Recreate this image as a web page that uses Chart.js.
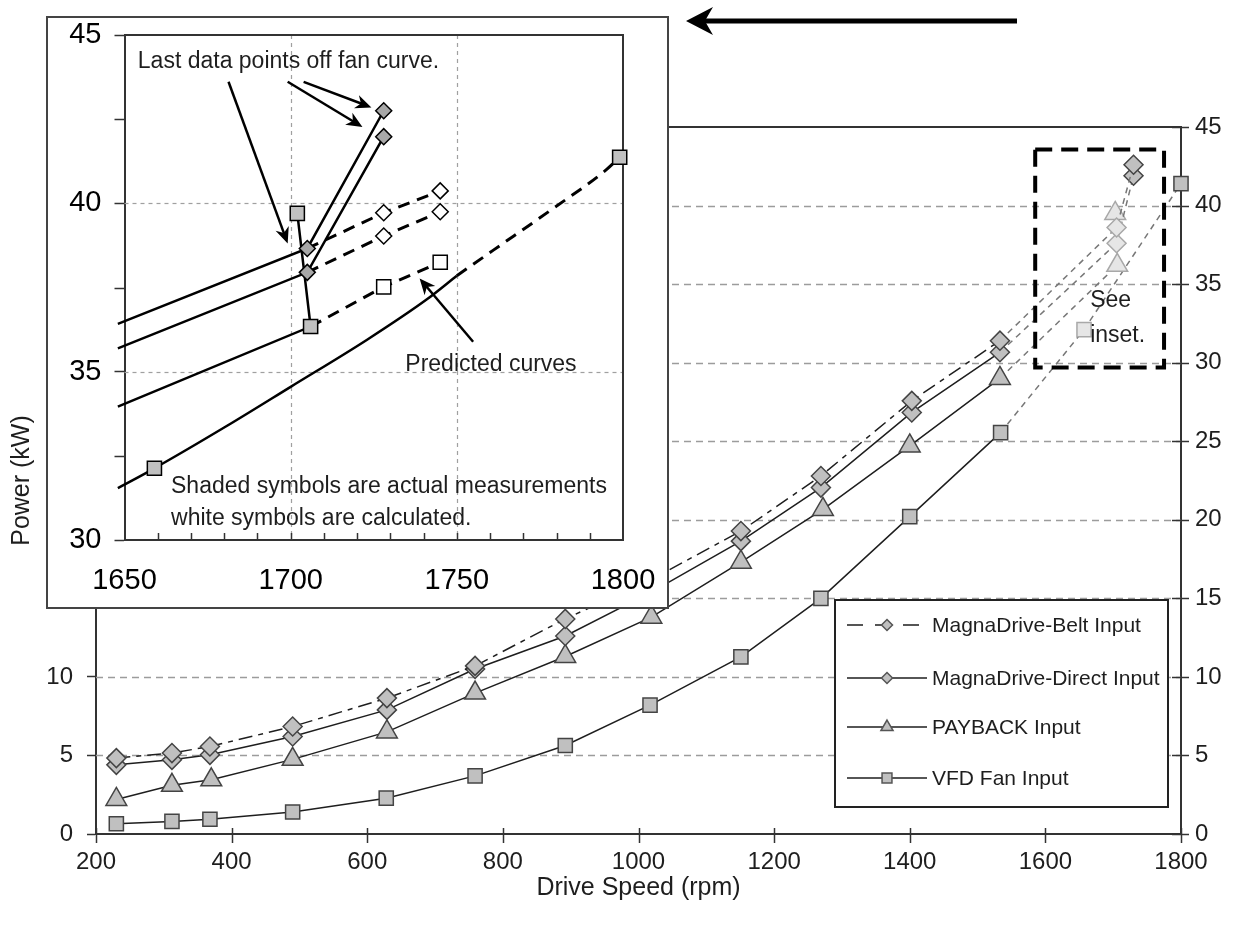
<!DOCTYPE html>
<html>
<head>
<meta charset="utf-8">
<script src="https://cdn.jsdelivr.net/npm/chart.js@4.4.1/dist/chart.umd.min.js"></script>
<style>
  html, body { margin: 0; background: #fff; }
  #wrap { position: relative; width: 1235px; height: 928px; overflow: hidden; }
  #main { position: absolute; left: 0; top: 0; }
  #insetBox { position: absolute; left: 46px; top: 16px; width: 619px; height: 589px;
              border: 2px solid #444; background: #fff; }
  #inset { display: block; }
</style>
</head>
<body>
<div id="wrap">
  <canvas id="main" width="1235" height="928"></canvas>
  <div id="insetBox"><canvas id="inset" width="619" height="589"></canvas></div>
</div>
<script>
// ---- main chart data: drive speed (rpm) vs input power (kW)
const speedMagna = [230, 312, 368, 490, 629, 759, 892, 1019, 1151, 1269, 1403, 1533, 1705, 1730];
const beltKw     = [4.83, 5.15, 5.57, 6.84, 8.65, 10.7, 13.69, 16.2, 19.28, 22.79, 27.57, 31.4, 38.6, 42.6];
const directKw   = [4.4, 4.72, 5.04, 6.21, 7.9, 10.5, 12.6, 15.4, 18.64, 22.05, 26.83, 30.66, 37.6, 41.9];
const speedPayback = [230, 312, 370, 490, 629, 759, 892, 1019, 1151, 1272, 1400, 1533, 1706, 1703];
const paybackKw    = [2.2, 3.1, 3.45, 4.75, 6.5, 8.97, 11.3, 13.8, 17.3, 20.66, 24.7, 29.0, 36.2, 39.5];
const speedVfd = [230, 312, 368, 490, 628, 759, 892, 1017, 1151, 1269, 1400, 1534, 1657, 1800];
const vfdKw    = [0.65, 0.8, 0.94, 1.4, 2.28, 3.7, 5.63, 8.2, 11.27, 15.0, 20.2, 25.55, 32.1, 41.4];

// ---- inset: 1650-1800 rpm close-up
const insetBeltLine    = [[1648, 36.42], [1705, 38.66], [1728, 42.75]];
const insetDirectLine  = [[1648, 35.69], [1705, 37.95], [1728, 41.98]];
const insetPaybackLine = [[1648, 33.96], [1706, 36.34], [1702, 39.70]];
const insetVfdLine     = [[1648, 31.54], [1659, 32.13], [1681, 33.4], [1700, 34.55], [1723, 35.95], [1741, 37.15], [1750, 37.85]];
const insetBeltPredicted    = [[1705, 38.66], [1728, 39.72], [1745, 40.37]];
const insetDirectPredicted  = [[1705, 37.95], [1728, 39.03], [1745, 39.75]];
const insetPaybackPredicted = [[1706, 36.34], [1728, 37.52], [1745, 38.25]];
const insetVfdPredicted     = [[1750, 37.85], [1761, 38.61], [1778, 39.78], [1795, 41.0], [1799, 41.37]];
const insetShadedDiamonds = [[1705, 38.66], [1728, 42.75], [1705, 37.95], [1728, 41.98]];
const insetShadedSquares  = [[1706, 36.34], [1702, 39.70], [1659, 32.13], [1799, 41.37]];
const insetWhiteDiamonds  = [[1728, 39.72], [1745, 40.37], [1728, 39.03], [1745, 39.75]];
const insetWhiteSquares   = [[1728, 37.52], [1745, 38.25]];

const FONT = "'Liberation Sans', Arial, sans-serif";
const INK = '#1e1e1e';
Chart.defaults.font.family = FONT;
Chart.defaults.color = INK;

const toPoints = (xs, ys) => xs.map((x, i) => ({ x: x, y: ys[i] }));
const pairs = list => list.map(p => ({ x: p[0], y: p[1] }));
const plain = v => String(v);
// keep the plot area exactly where the layout padding puts it
const noEdgePad = s => { s.paddingTop = 0; s.paddingBottom = 0; s.paddingLeft = 0; s.paddingRight = 0; };

// full-speed points that sit in the dashed "see inset" box are drawn pale
const pale = c => c.raw && c.raw.x > 1600 && c.raw.x < 1720;
const boxed = c => c.p0.parsed.x >= 1530;

function mainSeries(label, xs, ys, style, radius, dash) {
  return {
    label: label,
    data: toPoints(xs, ys),
    showLine: true,
    borderColor: INK,
    borderWidth: 1.5,
    borderDash: dash,
    pointStyle: style,
    pointRadius: radius,
    pointBackgroundColor: c => pale(c) ? '#e6e6e6' : '#c0c0c0',
    pointBorderColor: c => pale(c) ? '#a8a8a8' : '#444',
    pointBorderWidth: 1.5,
    clip: false,
    segment: {
      borderDash: c => boxed(c) ? [6, 5] : dash,
      borderColor: c => boxed(c) ? '#777' : INK
    }
  };
}

function arrow(ctx, x0, y0, x1, y1, w, len, half) {
  const a = Math.atan2(y1 - y0, x1 - x0);
  const cos = Math.cos(a), sin = Math.sin(a);
  ctx.save();
  ctx.strokeStyle = '#000';
  ctx.fillStyle = '#000';
  ctx.lineWidth = w;
  ctx.beginPath();
  ctx.moveTo(x0, y0);
  ctx.lineTo(x1 - cos * len * 0.6, y1 - sin * len * 0.6);
  ctx.stroke();
  ctx.beginPath();
  ctx.moveTo(x1, y1);
  ctx.lineTo(x1 - cos * len - sin * half, y1 - sin * len + cos * half);
  ctx.lineTo(x1 - cos * len * 0.7, y1 - sin * len * 0.7);
  ctx.lineTo(x1 - cos * len + sin * half, y1 - sin * len - cos * half);
  ctx.closePath();
  ctx.fill();
  ctx.restore();
}

function marker(ctx, style, x, y, r) {
  ctx.beginPath();
  if (style === 'rectRot') {
    ctx.moveTo(x, y - r); ctx.lineTo(x + r, y); ctx.lineTo(x, y + r); ctx.lineTo(x - r, y);
  } else if (style === 'triangle') {
    ctx.moveTo(x, y - r); ctx.lineTo(x + r * 0.866, y + r * 0.5); ctx.lineTo(x - r * 0.866, y + r * 0.5);
  } else {
    const s = r * 0.707;
    ctx.rect(x - s, y - s, 2 * s, 2 * s);
  }
  ctx.closePath();
  ctx.fill();
  ctx.stroke();
}

const mainDecor = {
  id: 'mainDecor',
  beforeDatasetsDraw(chart) {
    const { ctx, chartArea: a, scales: { x, y } } = chart;
    ctx.save();
    ctx.strokeStyle = '#9c9c9c';
    ctx.lineWidth = 1.5;
    ctx.setLineDash([7, 5]);
    for (let v = 5; v < 45; v += 5) {
      const py = Math.round(y.getPixelForValue(v)) + 0.5;
      ctx.beginPath(); ctx.moveTo(a.left, py); ctx.lineTo(a.right, py); ctx.stroke();
    }
    ctx.restore();
  },
  afterDatasetsDraw(chart) {
    const { ctx, scales: { x, y } } = chart;
    // dashed box round the full-speed points
    const l = x.getPixelForValue(1585), r = x.getPixelForValue(1775);
    const t = y.getPixelForValue(43.56), b = y.getPixelForValue(29.7);
    ctx.save();
    ctx.strokeStyle = '#000';
    ctx.lineWidth = 4;
    ctx.setLineDash([17, 9]);
    ctx.strokeRect(l, t, r - l, b - t);
    ctx.setLineDash([]);
    ctx.font = '23px ' + FONT;
    ctx.fillStyle = INK;
    ctx.textBaseline = 'middle';
    ctx.fillText('See', x.getPixelForValue(1666), y.getPixelForValue(33.95));
    ctx.fillText('inset.', x.getPixelForValue(1666), y.getPixelForValue(31.7));
    ctx.restore();
  },
  afterDraw(chart) {
    const { ctx, chartArea: a, scales: { x, y } } = chart;
    ctx.save();
    ctx.strokeStyle = '#333';
    ctx.lineWidth = 2;
    ctx.beginPath(); ctx.moveTo(a.left, a.top); ctx.lineTo(a.right, a.top); ctx.stroke();
    ctx.lineWidth = 1.5;
    x.ticks.forEach(t => {
      const px = Math.round(x.getPixelForValue(t.value)) + 0.5;
      ctx.beginPath(); ctx.moveTo(px, a.bottom - 6); ctx.lineTo(px, a.bottom + 9); ctx.stroke();
    });
    y.ticks.forEach(t => {
      const py = Math.round(y.getPixelForValue(t.value)) + 0.5;
      ctx.beginPath(); ctx.moveTo(a.right - 9, py); ctx.lineTo(a.right + 8, py); ctx.stroke();
    });

    // legend box
    const bx = a.right - 346, by = a.top + 473, bw = 333, bh = 207;
    ctx.fillStyle = '#fff';
    ctx.fillRect(bx, by, bw, bh);
    ctx.strokeStyle = '#222';
    ctx.lineWidth = 2;
    ctx.strokeRect(bx, by, bw, bh);
    const rows = [25, 78, 127, 178];
    const sizes = [5.5, 5.5, 7, 7];
    chart.data.datasets.forEach((ds, i) => {
      const ry = by + rows[i];
      ctx.strokeStyle = INK;
      ctx.lineWidth = 1.5;
      ctx.setLineDash(ds.borderDash && ds.borderDash.length ? [16, 12] : []);
      ctx.beginPath(); ctx.moveTo(bx + 12, ry); ctx.lineTo(bx + 92, ry); ctx.stroke();
      ctx.setLineDash([]);
      ctx.fillStyle = '#c0c0c0';
      ctx.strokeStyle = '#555';
      marker(ctx, ds.pointStyle, bx + 52, ry, sizes[i]);
      ctx.fillStyle = INK;
      ctx.font = '21px ' + FONT;
      ctx.textBaseline = 'middle';
      ctx.fillText(ds.label, bx + 97, ry + 1);
    });

    // pointer to the inset
    arrow(ctx, 1017, 21, 686, 21, 5, 27, 14);
    ctx.restore();
  }
};

new Chart(document.getElementById('main'), {
  type: 'scatter',
  data: {
    datasets: [
      mainSeries('MagnaDrive-Belt Input', speedMagna, beltKw, 'rectRot', 9.5, [14, 6, 5, 6]),
      mainSeries('MagnaDrive-Direct Input', speedMagna, directKw, 'rectRot', 9.5, []),
      mainSeries('PAYBACK Input', speedPayback, paybackKw, 'triangle', 12, []),
      mainSeries('VFD Fan Input', speedVfd, vfdKw, 'rect', 10, [])
    ]
  },
  options: {
    responsive: false,
    animation: false,
    devicePixelRatio: 1,
    layout: { padding: { top: 127, left: 0, right: 0, bottom: 0 }, autoPadding: false },
    plugins: { legend: { display: false }, tooltip: { enabled: false } },
    scales: {
      x: {
        type: 'linear', min: 200, max: 1800, position: 'bottom',
        ticks: { stepSize: 200, padding: 14, maxRotation: 0, autoSkip: false, font: { size: 24 }, callback: plain },
        grid: { drawOnChartArea: false, drawTicks: false },
        border: { color: '#333', width: 2 },
        title: { display: true, text: 'Drive Speed (rpm)', font: { size: 25 }, padding: { top: 0, bottom: 25 } },
        afterFit: s => { s.height = 94; noEdgePad(s); }
      },
      y: {
        min: 0, max: 45, position: 'left',
        ticks: { stepSize: 5, padding: 14, font: { size: 24 }, callback: plain },
        grid: { drawOnChartArea: false, tickLength: 9, tickColor: '#333', tickWidth: 1.5 },
        border: { color: '#333', width: 2 },
        title: { display: true, text: 'Power (kW)', font: { size: 25 }, padding: { top: 7, bottom: 0 } },
        afterFit: s => { s.width = 96; noEdgePad(s); }
      },
      yRight: {
        min: 0, max: 45, position: 'right',
        ticks: { stepSize: 5, padding: 14, font: { size: 24 }, callback: plain },
        grid: { drawOnChartArea: false, drawTicks: false },
        border: { color: '#333', width: 2 },
        afterFit: s => { s.width = 54; noEdgePad(s); }
      }
    }
  },
  plugins: [mainDecor]
});

// ---- inset chart
const insetDecor = {
  id: 'insetDecor',
  beforeDatasetsDraw(chart) {
    const { ctx, chartArea: a, scales: { x, y } } = chart;
    ctx.save();
    ctx.strokeStyle = '#a0a0a0';
    ctx.lineWidth = 1.2;
    ctx.setLineDash([4, 4]);
    [1700, 1750].forEach(v => {
      const px = Math.round(x.getPixelForValue(v)) + 0.5;
      ctx.beginPath(); ctx.moveTo(px, a.top); ctx.lineTo(px, a.bottom); ctx.stroke();
    });
    [35, 40].forEach(v => {
      const py = Math.round(y.getPixelForValue(v)) + 0.5;
      ctx.beginPath(); ctx.moveTo(a.left, py); ctx.lineTo(a.right, py); ctx.stroke();
    });
    ctx.setLineDash([]);
    ctx.strokeStyle = '#333';
    ctx.lineWidth = 2;
    ctx.beginPath();
    ctx.moveTo(a.left, a.top); ctx.lineTo(a.right, a.top); ctx.lineTo(a.right, a.bottom);
    ctx.stroke();
    // minor ticks
    ctx.lineWidth = 1.5;
    for (let v = 1660; v < 1800; v += 10) {
      const px = Math.round(x.getPixelForValue(v)) + 0.5;
      ctx.beginPath(); ctx.moveTo(px, a.bottom); ctx.lineTo(px, a.bottom - 7); ctx.stroke();
    }
    [32.5, 37.5, 42.5].forEach(v => {
      const py = Math.round(y.getPixelForValue(v)) + 0.5;
      ctx.beginPath(); ctx.moveTo(a.left, py); ctx.lineTo(a.left - 10, py); ctx.stroke();
    });
    ctx.restore();
  },
  afterDatasetsDraw(chart) {
    const { ctx, scales: { x, y } } = chart;
    const px = v => x.getPixelForValue(v), py = v => y.getPixelForValue(v);
    ctx.save();
    ctx.font = '23px ' + FONT;
    ctx.fillStyle = INK;
    ctx.textBaseline = 'middle';
    ctx.fillText('Last data points off fan curve.', px(1654), py(44.2));
    ctx.fillText('Predicted curves', px(1734.5), py(35.2));
    ctx.fillText('Shaded symbols are actual measurements', px(1664), py(31.58));
    ctx.fillText('white symbols are calculated.', px(1664), py(30.64));
    arrow(ctx, px(1681.3), py(43.61), px(1699.1), py(38.81), 2.5, 16, 7);
    arrow(ctx, px(1699.1), py(43.61), px(1721.6), py(42.27), 2.5, 16, 7);
    arrow(ctx, px(1703.9), py(43.61), px(1724.3), py(42.85), 2.5, 16, 7);
    arrow(ctx, px(1754.9), py(35.89), px(1738.8), py(37.77), 2.5, 16, 7);
    ctx.restore();
  }
};

// straight segments by default; the fan curve itself is drawn smooth
const solid = (d, smooth) => ({ data: pairs(d), showLine: true, borderColor: '#000', borderWidth: 2.5, pointRadius: 0,
                                cubicInterpolationMode: smooth ? 'monotone' : 'default', tension: 0, clip: false });
const dashed = (d, smooth) => ({ data: pairs(d), showLine: true, borderColor: '#000', borderWidth: 3, borderDash: [12, 8],
                                 pointRadius: 0, cubicInterpolationMode: smooth ? 'monotone' : 'default', tension: 0, clip: false });
const marks = (d, style, r, fill) => ({
  data: pairs(d), showLine: false, pointStyle: style, pointRadius: r,
  pointBackgroundColor: fill, pointBorderColor: '#000', pointBorderWidth: 1.5, clip: false
});

new Chart(document.getElementById('inset'), {
  type: 'scatter',
  data: {
    datasets: [
      marks(insetShadedDiamonds, 'rectRot', 8, '#a8a8a8'),
      marks(insetShadedSquares, 'rect', 10, '#c0c0c0'),
      marks(insetWhiteDiamonds, 'rectRot', 8, '#fff'),
      marks(insetWhiteSquares, 'rect', 10, '#fff'),
      solid(insetBeltLine), solid(insetDirectLine), solid(insetPaybackLine), solid(insetVfdLine, true),
      dashed(insetBeltPredicted), dashed(insetDirectPredicted), dashed(insetPaybackPredicted), dashed(insetVfdPredicted, true)
    ]
  },
  options: {
    responsive: false,
    animation: false,
    devicePixelRatio: 1,
    layout: { padding: { top: 17, left: 0, right: 44, bottom: 0 }, autoPadding: false },
    plugins: { legend: { display: false }, tooltip: { enabled: false } },
    scales: {
      x: {
        type: 'linear', min: 1650, max: 1800,
        ticks: { stepSize: 50, padding: 24, maxRotation: 0, autoSkip: false, font: { size: 29 }, color: '#000', callback: plain },
        grid: { drawOnChartArea: false, drawTicks: false },
        border: { color: '#333', width: 2 },
        afterFit: s => { s.height = 67; noEdgePad(s); }
      },
      y: {
        min: 30, max: 45,
        ticks: { stepSize: 5, padding: 13, font: { size: 29 }, color: '#000', callback: plain },
        grid: { drawOnChartArea: false, tickLength: 10, tickColor: '#333', tickWidth: 1.5 },
        border: { color: '#333', width: 2 },
        afterFit: s => { s.width = 76.5; noEdgePad(s); }
      }
    }
  },
  plugins: [insetDecor]
});
</script>
</body>
</html>
